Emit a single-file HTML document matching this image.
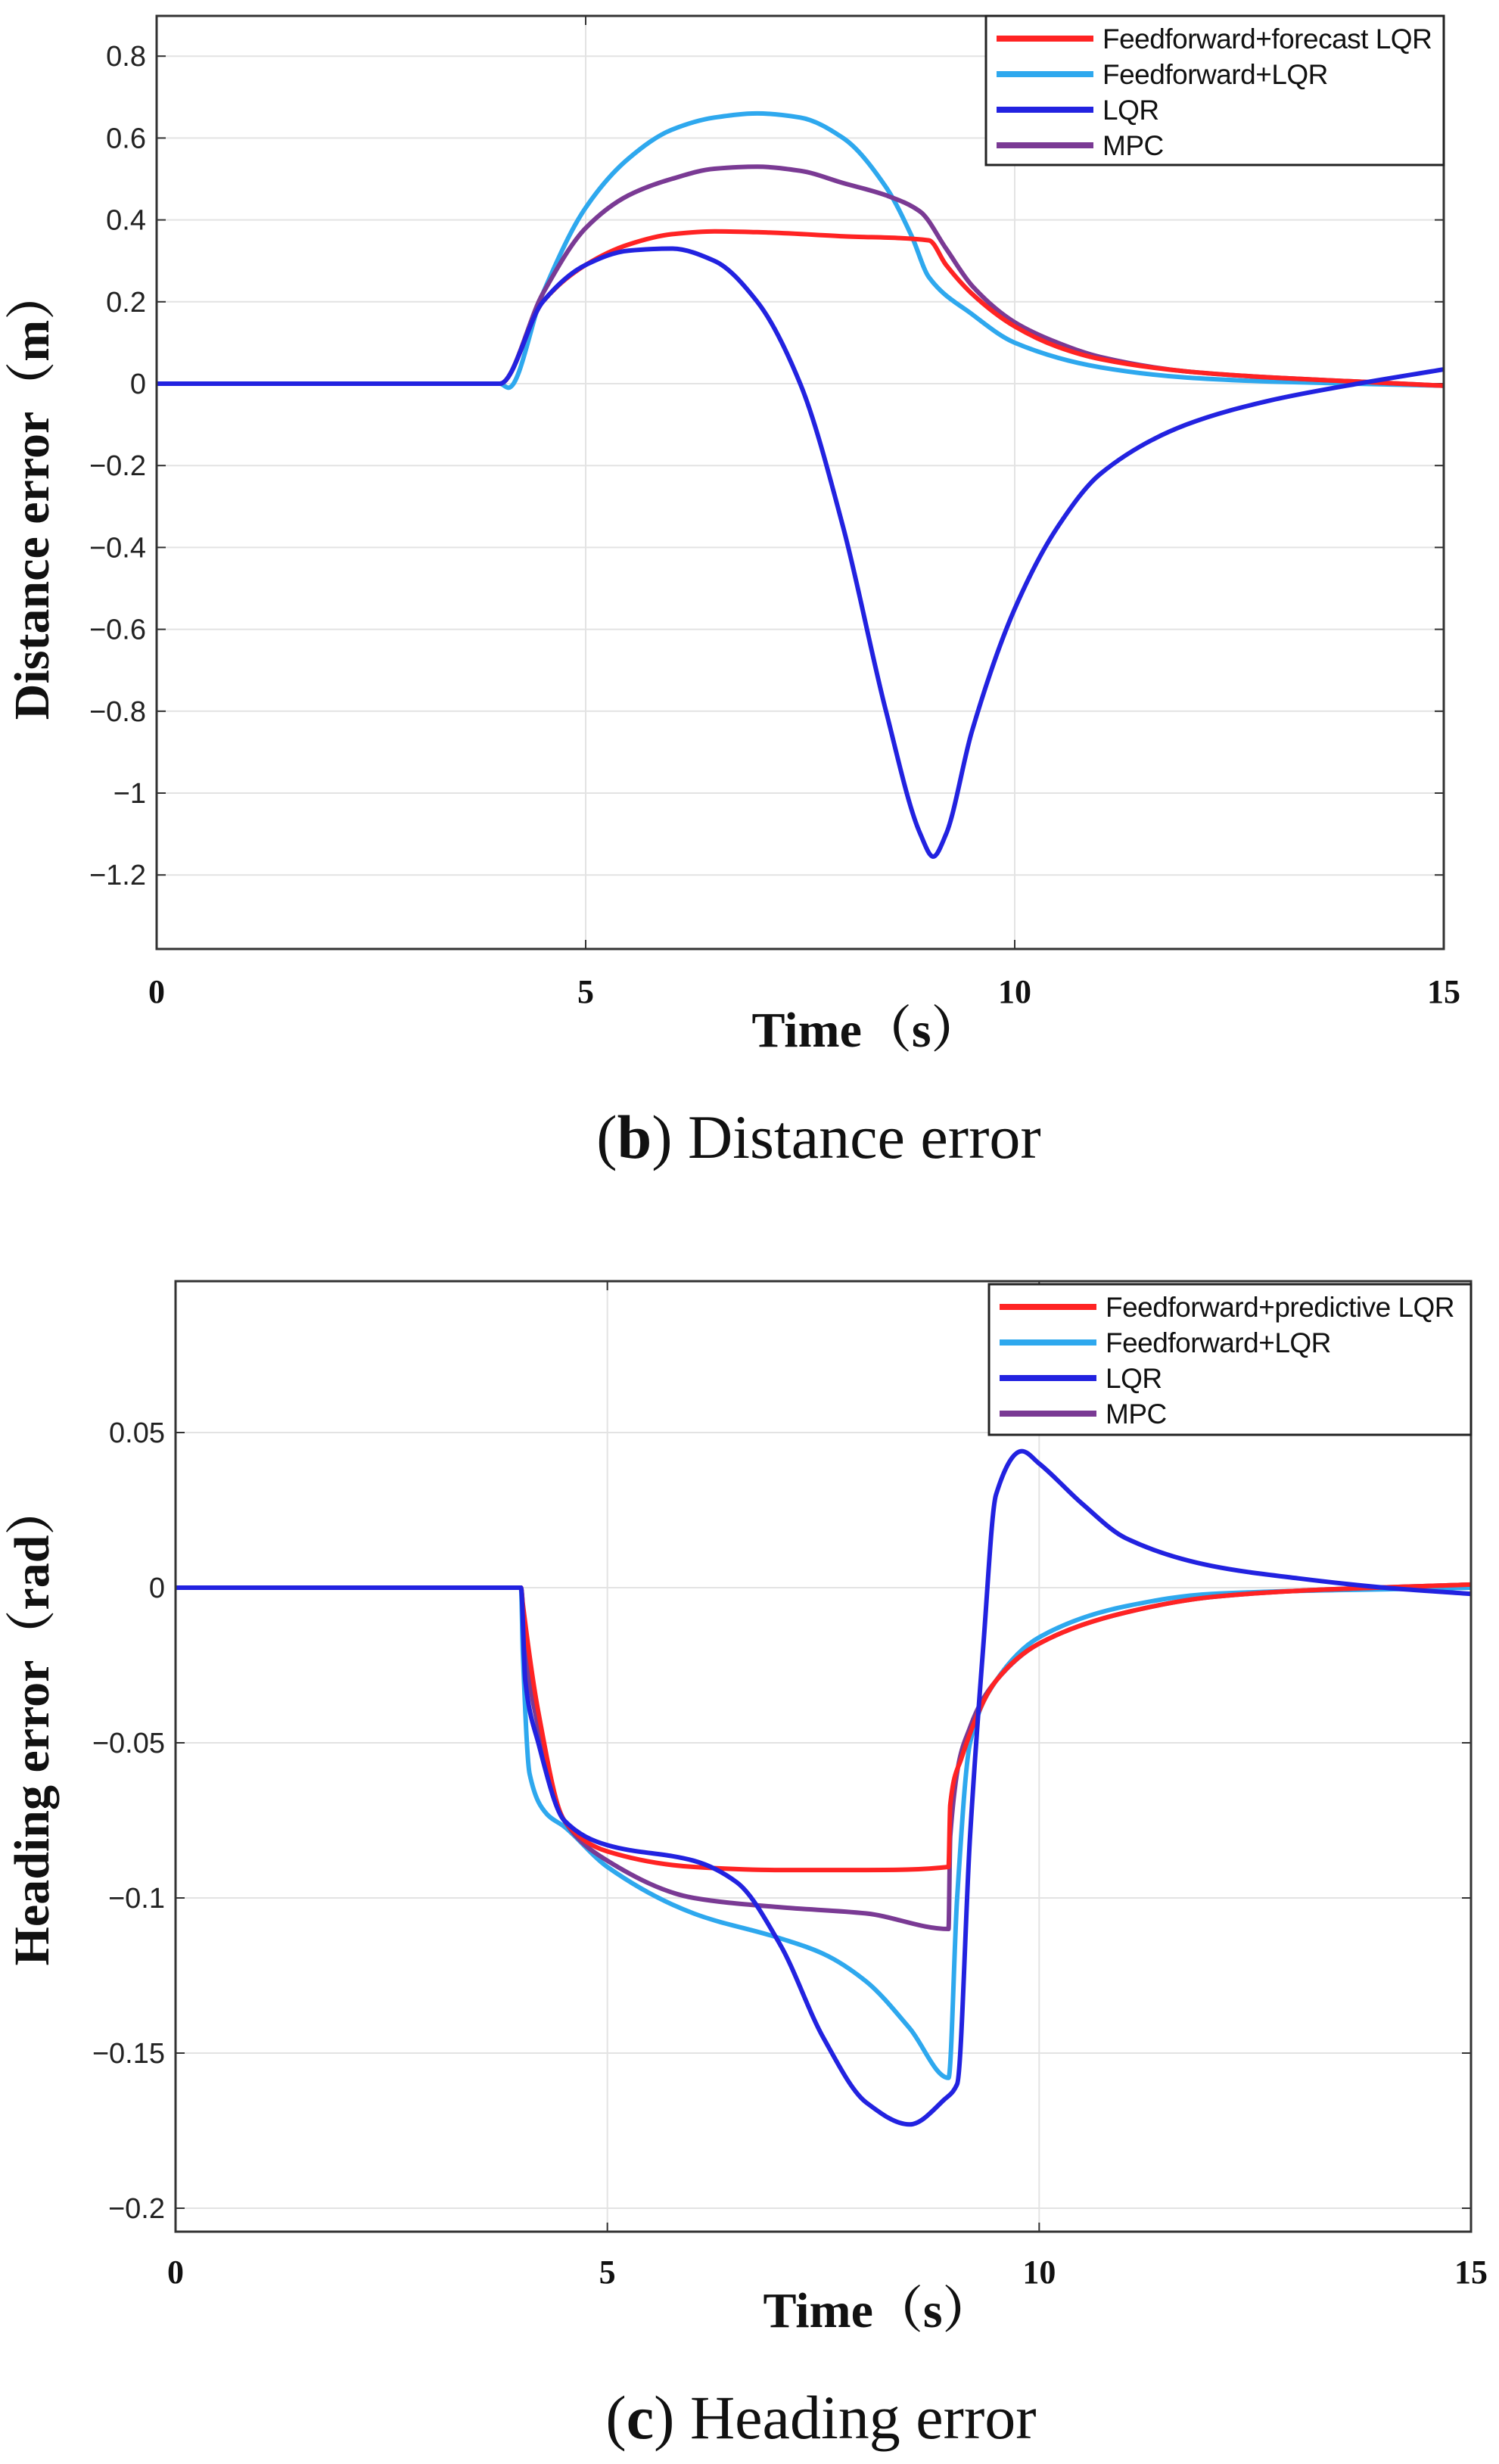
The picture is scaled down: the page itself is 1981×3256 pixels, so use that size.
<!DOCTYPE html>
<html><head><meta charset="utf-8"><style>
body{margin:0;background:#fff;width:1981px;height:3256px;overflow:hidden}
svg{display:block}
</style></head><body>
<svg id="svg" width="1981" height="3256" xmlns="http://www.w3.org/2000/svg"></svg>
<script>
// Chart 1 data (distance error)
const t1Red=[0,4,4.5,5,5.5,6,6.5,7,8,9,9.2,9.5,10,10.5,11,12,13,14,15];
const v1Red=[0,0,0.2,0.29,0.34,0.365,0.372,0.37,0.36,0.35,0.29,0.22,0.14,0.09,0.06,0.03,0.015,0.005,-0.005];
const t1Cyan=[0,4,4.1,4.5,5,5.5,6,6.5,7,7.5,8,8.5,8.8,9,9.5,10,11,12,13,15];
const v1Cyan=[0,0,-0.01,0.22,0.43,0.55,0.62,0.65,0.66,0.65,0.6,0.48,0.36,0.26,0.17,0.1,0.04,0.015,0.005,-0.005];
const t1Blue=[0,4,4.5,5,5.5,6,6.5,7,7.5,8,8.5,8.9,9.05,9.2,9.5,10,10.5,11,12,13,14,15];
const v1Blue=[0,0,0.2,0.29,0.325,0.33,0.3,0.2,0,-0.35,-0.8,-1.1,-1.155,-1.1,-0.85,-0.55,-0.35,-0.22,-0.1,-0.04,0,0.035];
const t1Mpc=[0,4,4.5,5,5.5,6,6.5,7,7.5,8,8.5,8.9,9.2,9.5,10,10.5,11,12,13,14,15];
const v1Mpc=[0,0,0.22,0.38,0.46,0.5,0.525,0.53,0.52,0.49,0.46,0.42,0.33,0.24,0.15,0.1,0.065,0.03,0.015,0.005,-0.005];
const yTicks1=[0.8,0.6,0.4,0.2,0,-0.2,-0.4,-0.6,-0.8,-1,-1.2];
const yLabels1=["0.8","0.6","0.4","0.2","0","\u22120.2","\u22120.4","\u22120.6","\u22120.8","\u22121","\u22121.2"];
// Chart 2 data (heading error)
const t2Red=[0,4,4.02,4.2,4.5,5,6,7,8,8.95,8.97,9.1,9.5,10,11,12,13,15];
const v2Red=[0,0,-0.005,-0.04,-0.075,-0.085,-0.09,-0.091,-0.091,-0.09,-0.07,-0.055,-0.03,-0.018,-0.008,-0.003,-0.001,0.001];
const t2Cyan=[0,4,4.02,4.1,4.3,4.5,5,6,7,7.5,8,8.5,8.95,9.05,9.2,9.5,10,11,12,15];
const v2Cyan=[0,0,-0.02,-0.06,-0.073,-0.077,-0.09,-0.105,-0.113,-0.118,-0.127,-0.142,-0.158,-0.1,-0.05,-0.03,-0.016,-0.006,-0.002,0];
const t2Blue=[0,4,4.05,4.2,4.5,5,6,6.5,7,7.5,8,8.5,8.9,9.05,9.2,9.35,9.5,9.8,10,10.5,11,12,13,14,15];
const v2Blue=[0,0,-0.03,-0.05,-0.075,-0.083,-0.088,-0.095,-0.115,-0.145,-0.166,-0.173,-0.165,-0.16,-0.08,-0.02,0.03,0.044,0.04,0.027,0.016,0.007,0.003,0,-0.002];
const t2Mpc=[0,4,4.05,4.2,4.5,5,6,7,8,8.95,8.97,9.2,9.5,10,11,12,13,15];
const v2Mpc=[0,0,-0.02,-0.045,-0.075,-0.088,-0.1,-0.103,-0.105,-0.11,-0.08,-0.045,-0.03,-0.018,-0.008,-0.003,-0.001,0.001];
const yTicks2=[0.05,0,-0.05,-0.1,-0.15,-0.2];
const yLabels2=["0.05","0","\u22120.05","\u22120.1","\u22120.15","\u22120.2"];
const xTicks=[0,5,10,15];
const xLabels=["0","5","10","15"];

const NS="http://www.w3.org/2000/svg";
const svg=document.getElementById('svg');
function mk(tag,attrs,parent,text){const e=document.createElementNS(NS,tag);for(const k in attrs)e.setAttribute(k,attrs[k]);if(text!==undefined)e.textContent=text;(parent||svg).appendChild(e);return e;}
const COL={red:'#ff2323',cyan:'#2ea8ee',blue:'#2222e0',mpc:'#7a3a94'};

// monotone cubic (Fritsch-Carlson) path in pixel space
function smooth(p){
  const n=p.length;const d=[],m=[];
  for(let i=0;i<n-1;i++)d.push((p[i+1][1]-p[i][1])/(p[i+1][0]-p[i][0]));
  m[0]=d[0];m[n-1]=d[n-2];
  for(let i=1;i<n-1;i++){ if(d[i-1]*d[i]<=0)m[i]=0; else {const h0=p[i][0]-p[i-1][0],h1=p[i+1][0]-p[i][0];const w1=2*h1+h0,w2=h1+2*h0;m[i]=(w1+w2)/(w1/d[i-1]+w2/d[i]);} }
  let s='M'+p[0][0].toFixed(1)+','+p[0][1].toFixed(1);
  for(let i=0;i<n-1;i++){const h=(p[i+1][0]-p[i][0])/3;
    s+=` C${(p[i][0]+h).toFixed(1)},${(p[i][1]+m[i]*h).toFixed(1)} ${(p[i+1][0]-h).toFixed(1)},${(p[i+1][1]-m[i+1]*h).toFixed(1)} ${p[i+1][0].toFixed(1)},${p[i+1][1].toFixed(1)}`;}
  return s;
}

function chart(cfg){
  const g=mk('g',{});
  
  
  const X=t=>cfg.L+(t-0)/15*(cfg.R-cfg.L);
  const Yv=v=>cfg.zeroPx - v*cfg.ppu;
  cfg.yTicks.forEach((v,i)=>{
    const gl=mk('line',{x1:cfg.L,x2:cfg.R,y1:Yv(v),y2:Yv(v),stroke:'#e3e3e3','stroke-width':2},g);
    
    mk('line',{x1:cfg.L,x2:cfg.L+12,y1:Yv(v),y2:Yv(v),stroke:'#333','stroke-width':2},g);
    mk('line',{x1:cfg.R-12,x2:cfg.R,y1:Yv(v),y2:Yv(v),stroke:'#333','stroke-width':2},g);
    const tl=mk('text',{x:cfg.L-14,y:Yv(v)+13,'text-anchor':'end','font-family':'Liberation Sans, sans-serif','font-size':38,fill:'#222'},g,cfg.yLabels[i]);
    
  });
  xTicks.forEach((t,i)=>{
    if(t>0&&t<15){const gl=mk('line',{x1:X(t),x2:X(t),y1:cfg.T,y2:cfg.B,stroke:'#e3e3e3','stroke-width':2},g);
      
      mk('line',{x1:X(t),x2:X(t),y1:cfg.T,y2:cfg.T+12,stroke:'#333','stroke-width':2},g);
      mk('line',{x1:X(t),x2:X(t),y1:cfg.B-12,y2:cfg.B,stroke:'#333','stroke-width':2},g);}
    const xl=mk('text',{x:X(t),y:cfg.xLabY,'text-anchor':'middle','font-family':'Liberation Serif, serif','font-weight':'bold','font-size':44,fill:'#111'},g,xLabels[i]);
    
  });
  const series=[['red',cfg.s[0],cfg.s[1]],['cyan',cfg.s[2],cfg.s[3]],['blue',cfg.s[4],cfg.s[5]],['mpc',cfg.s[6],cfg.s[7]]];
  const order=[1,3,0,2];
  order.forEach(k=>{const [c,ts,vs]=series[k];
    const pts=ts.map((t,i)=>[X(t),Yv(vs[i])]);
    const p=mk('path',{d:smooth(pts),fill:'none',stroke:COL[c],'stroke-width':6,'stroke-linejoin':'round'},g);
    
  });
  const fr=mk('rect',{x:cfg.L,y:cfg.T,width:cfg.R-cfg.L,height:cfg.B-cfg.T,fill:'none',stroke:'#333','stroke-width':3},g);
  
  const lg=mk('g',{},g);
  
  mk('rect',{x:cfg.lg[0],y:cfg.lg[1],width:cfg.lg[2],height:cfg.lg[3],fill:'#fff',stroke:'#222','stroke-width':3},lg);
  const cols=['red','cyan','blue','mpc'];
  cfg.names.forEach((n,i)=>{const yy=cfg.lg[1]+30+i*47;
    const e=mk('g',{},lg);
    mk('line',{x1:cfg.lg[0]+14,x2:cfg.lg[0]+142,y1:yy,y2:yy,stroke:COL[cols[i]],'stroke-width':8},e);
    mk('text',{x:cfg.lg[0]+154,y:yy+13,'font-family':'Liberation Sans, sans-serif','font-size':37,fill:'#111','letter-spacing':'-0.5'},e,n);
  });
  const xt=mk('text',{x:cfg.xTitX,y:cfg.xTitY,'text-anchor':'middle','font-family':'Liberation Serif, Noto Serif CJK SC, serif','font-weight':'bold','font-size':66,fill:'#111'},g,'Time（s）');
  
  const yt=mk('text',{x:0,y:0,transform:`translate(${cfg.ytx},${cfg.yty}) rotate(-90)`,'text-anchor':'middle','font-family':'Liberation Serif, Noto Serif CJK SC, serif','font-weight':'bold','font-size':66,fill:'#111'},g,cfg.ytitle);
  
  const cap=mk('text',{x:cfg.capX,y:cfg.capY,'text-anchor':'middle','font-family':'Liberation Serif, serif','font-size':82,fill:'#111'},svg);
  
  mk('tspan',{},cap,'(');mk('tspan',{'font-weight':'bold'},cap,cfg.capL);mk('tspan',{},cap,') '+cfg.capT);
}
chart({name:'distance-error-chart',L:207,R:1908,T:21,B:1254,zeroPx:507,ppu:541,yTicks:yTicks1,yLabels:yLabels1,xLabY:1325,xTitX:1145,xTitY:1383,
  s:[t1Red,v1Red,t1Cyan,v1Cyan,t1Blue,v1Blue,t1Mpc,v1Mpc],lg:[1303,21,605,197],
  names:['Feedforward+forecast LQR','Feedforward+LQR','LQR','MPC'],ytx:64,yty:654,ytitle:'Distance error（m）',capX:1082,capY:1530,capL:'b',capT:'Distance error'});
chart({name:'heading-error-chart',L:232,R:1944,T:1693,B:2949,zeroPx:2098,ppu:4100,yTicks:yTicks2,yLabels:yLabels2,xLabY:3017,xTitX:1160,xTitY:3075,
  s:[t2Red,v2Red,t2Cyan,v2Cyan,t2Blue,v2Blue,t2Mpc,v2Mpc],lg:[1307,1697,637,199],
  names:['Feedforward+predictive LQR','Feedforward+LQR','LQR','MPC'],ytx:64,yty:2280,ytitle:'Heading error（rad）',capX:1085,capY:3222,capL:'c',capT:'Heading error'});
</script>
</body></html>
